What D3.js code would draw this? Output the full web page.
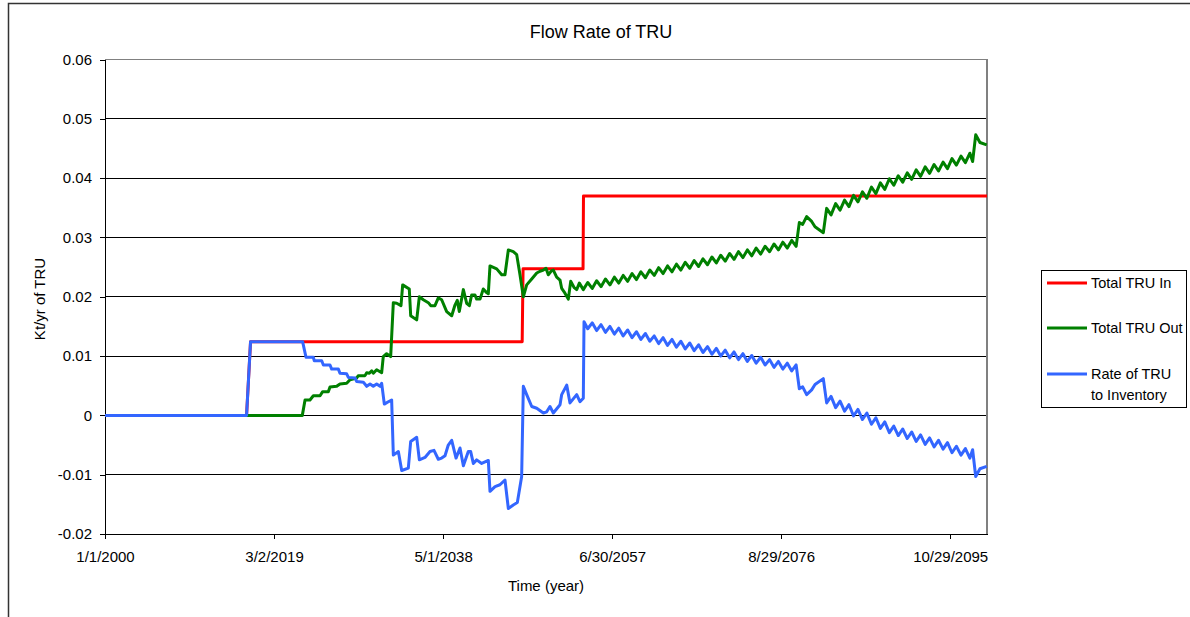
<!DOCTYPE html>
<html>
<head>
<meta charset="utf-8">
<script src="https://cdn.jsdelivr.net/npm/d3@7"></script>
<style>
  body { margin: 0; background: #fff; }
  text { font-family: "Liberation Sans", Arial, sans-serif; fill: #000; }
</style>
</head>
<body>
<svg id="chart" width="1190" height="617"></svg>
<script>
"use strict";

const plotLeft = 105;
const plotRight = 987;
const plotTop = 59.5;
const plotBottom = 534;

// [decimal year, Kt/yr]
const totalIn = [
    [2000, 0], [2016.05, 0], [2016.5, 0.0124], [2047.3, 0.0124], [2047.4, 0.0247],
    [2054.2, 0.0247], [2054.25, 0.0370], [2100, 0.0370]
];

const totalOut = [
    [2000, 0], [2022.37, 0], [2022.68, .0026], [2023.24, .0026], [2023.62, .0033], [2024.38, .0033],
    [2024.68, .0040], [2025.32, .0040], [2025.51, .0048], [2026.27, .0049], [2026.64, .0053],
    [2027.40, .0054], [2027.78, .0060], [2028.54, .0063], [2028.72, .0067], [2029.48, .0067],
    [2029.67, .0072], [2029.97, .0071], [2030.24, .0075], [2030.42, .0071], [2030.80, .0077],
    [2031.37, .0072], [2031.55, .0099], [2031.93, .0104], [2032.39, .0099], [2032.69, .0190],
    [2033.07, .0189], [2033.56, .0185], [2033.75, .0220], [2034.50, .0213], [2034.66, .0168],
    [2035.34, .0161], [2035.64, .0200], [2036.09, .0195], [2036.66, .0190], [2036.93, .0185],
    [2037.41, .0185], [2037.79, .0198], [2038.17, .0195], [2038.74, .0175], [2039.31, .0168],
    [2039.68, .0186], [2039.94, .0194], [2040.17, .0175], [2040.63, .0212], [2041.01, .0189],
    [2041.31, .0185], [2041.57, .0203], [2041.95, .0203], [2042.14, .0196], [2042.52, .0196],
    [2042.89, .0213], [2043.27, .0207], [2043.46, .0205], [2043.65, .0252], [2044.41, .0247],
    [2044.98, .0237], [2045.35, .0237], [2045.73, .0279], [2046.29, .0276], [2046.68, .0271],
    [2047.05, .0237], [2047.43, .0200], [2047.81, .0220], [2048.38, .0230], [2048.95, .0240],
    [2049.32, .0243], [2049.70, .0245], [2050.00, .0248], [2050.26, .0237], [2050.64, .0244],
    [2050.83, .0245], [2051.21, .0233], [2051.59, .0228], [2051.78, .0214], [2052.15, .0206],
    [2052.53, .0196], [2052.80, .0226], [2053.17, .0216], [2053.48, .0212], [2053.78, .0223],
    [2054.23, .0212], [2054.73, .0224], [2055.24, .0214], [2055.74, .0227], [2056.24, .0217],
    [2056.74, .0230], [2057.25, .0220], [2057.75, .0233], [2058.25, .0223], [2058.75, .0236],
    [2059.26, .0226], [2059.76, .0239], [2060.26, .0229], [2060.76, .0242], [2061.27, .0232],
    [2061.77, .0245], [2062.27, .0236], [2062.77, .0249], [2063.28, .0239], [2063.78, .0252],
    [2064.29, .0242], [2064.79, .0255], [2065.29, .0245], [2065.79, .0258], [2066.30, .0248],
    [2066.80, .0261], [2067.30, .0251], [2067.80, .0264], [2068.31, .0254], [2068.81, .0267],
    [2069.31, .0257], [2069.81, .0270], [2070.32, .0260], [2070.82, .0273], [2071.32, .0263],
    [2071.82, .0276], [2072.33, .0266], [2072.83, .0279], [2073.33, .0269], [2073.83, .0282],
    [2074.34, .0272], [2074.84, .0285], [2075.35, .0276], [2075.85, .0289], [2076.35, .0279],
    [2076.85, .0292], [2077.36, .0282], [2077.86, .0295], [2078.36, .0285], [2078.72, .0325],
    [2079.10, .0322], [2079.55, .0335], [2080.12, .0327], [2080.50, .0318], [2081.44, .0308],
    [2081.82, .0349], [2082.32, .0338], [2082.84, .0357], [2083.34, .0346], [2083.85, .0363],
    [2084.35, .0352], [2084.87, .0371], [2085.37, .0360], [2085.88, .0377], [2086.38, .0366],
    [2086.90, .0385], [2087.40, .0374], [2087.91, .0392], [2088.41, .0381], [2088.93, .0399],
    [2089.43, .0388], [2089.94, .0404], [2090.44, .0393], [2090.96, .0409], [2091.46, .0398],
    [2091.97, .0414], [2092.47, .0403], [2092.99, .0419], [2093.49, .0408], [2094.00, .0423],
    [2094.50, .0412], [2095.02, .0427], [2095.52, .0416], [2096.03, .0433], [2096.53, .0422],
    [2097.05, .0437], [2097.55, .0426], [2098.06, .0442], [2098.37, .0428], [2098.72, .0473],
    [2099.20, .0460], [2099.97, .0456]
];

const toInventory = [
    [2000, 0], [2016.05, 0], [2016.5, .0124], [2022.41, .0124], [2022.79, .0098], [2023.62, .0098],
    [2023.73, .0092], [2024.57, .0092], [2024.76, .0085], [2025.51, .0085], [2025.70, .0078],
    [2026.46, .0078], [2026.64, .0071], [2027.40, .0070], [2027.59, .0064], [2028.35, .0063],
    [2028.54, .0057], [2029.29, .0056], [2029.67, .0049], [2030.05, .0053], [2030.42, .0049],
    [2030.80, .0053], [2031.18, .0049], [2031.37, .0054], [2031.67, .0019], [2032.12, .0023],
    [2032.50, .0026], [2032.69, -.0067], [2033.26, -.0061], [2033.64, -.0093], [2034.39, -.0089],
    [2034.66, -.0044], [2035.34, -.0037], [2035.64, -.0075], [2036.28, -.0071], [2036.85, -.0061],
    [2037.30, -.0059], [2037.79, -.0074], [2038.17, -.0072], [2038.55, -.0068], [2038.92, -.0050],
    [2039.31, -.0042], [2039.80, -.0072], [2040.25, -.0055], [2040.63, -.0085], [2041.19, -.0061],
    [2041.46, -.0061], [2041.76, -.0081], [2042.14, -.0075], [2042.71, -.0081], [2043.46, -.0076],
    [2043.65, -.0128], [2044.22, -.0120], [2044.78, -.0117], [2045.35, -.0109], [2045.73, -.0157],
    [2046.29, -.0151], [2046.75, -.0147], [2047.24, -.0103], [2047.43, .0049], [2047.81, .0035],
    [2048.38, .0015], [2048.95, .0012], [2049.70, .0004], [2050.08, .0006], [2050.45, .0015],
    [2050.83, .0004], [2051.59, .0018], [2051.78, .0035], [2052.35, .0051], [2052.72, .0021],
    [2053.48, .0035], [2053.85, .0023], [2054.23, .0029], [2054.31, .0158], [2054.73, .0146],
    [2055.24, .0156], [2055.74, .0143], [2056.24, .0153], [2056.74, .0140], [2057.25, .0150],
    [2057.75, .0137], [2058.25, .0147], [2058.75, .0134], [2059.26, .0144], [2059.76, .0131],
    [2060.26, .0141], [2060.76, .0128], [2061.27, .0138], [2061.77, .0125], [2062.27, .0134],
    [2062.77, .0121], [2063.28, .0131], [2063.78, .0118], [2064.29, .0128], [2064.79, .0115],
    [2065.29, .0125], [2065.79, .0112], [2066.30, .0122], [2066.80, .0109], [2067.30, .0119],
    [2067.80, .0106], [2068.31, .0116], [2068.81, .0103], [2069.31, .0113], [2069.81, .0100],
    [2070.32, .0110], [2070.82, .0097], [2071.32, .0107], [2071.82, .0094], [2072.33, .0104],
    [2072.83, .0091], [2073.33, .0101], [2073.83, .0088], [2074.34, .0098], [2074.84, .0085],
    [2075.35, .0094], [2075.85, .0081], [2076.35, .0091], [2076.85, .0078], [2077.36, .0088],
    [2077.86, .0075], [2078.36, .0085], [2078.72, .0045], [2079.10, .0048], [2079.55, .0035],
    [2080.12, .0043], [2080.50, .0052], [2081.44, .0062], [2081.82, .0021], [2082.32, .0032],
    [2082.84, .0013], [2083.34, .0024], [2083.85, .0007], [2084.35, .0018], [2084.87, -.0001],
    [2085.37, .0010], [2085.88, -.0007], [2086.38, .0004], [2086.90, -.0015], [2087.40, -.0004],
    [2087.91, -.0022], [2088.41, -.0011], [2088.93, -.0029], [2089.43, -.0018], [2089.94, -.0034],
    [2090.44, -.0023], [2090.96, -.0039], [2091.46, -.0028], [2091.97, -.0044], [2092.47, -.0033],
    [2092.99, -.0049], [2093.49, -.0038], [2094.00, -.0053], [2094.50, -.0042], [2095.02, -.0057],
    [2095.52, -.0046], [2096.03, -.0063], [2096.53, -.0052], [2097.05, -.0067], [2097.55, -.0056],
    [2098.06, -.0072], [2098.37, -.0058], [2098.72, -.0103], [2099.20, -.0090], [2099.97, -.0086]
];

const yTicks = [-0.02, -0.01, 0, 0.01, 0.02, 0.03, 0.04, 0.05, 0.06];
const yTickLabels = ["-0.02", "-0.01", "0", "0.01", "0.02", "0.03", "0.04", "0.05", "0.06"];
const xTickDates = ["2000-01-01", "2019-03-02", "2038-05-01", "2057-06-30", "2076-08-29", "2095-10-29"];
const seriesNames = ["Total TRU In", "Total TRU Out", "Rate of TRU|to Inventory"];

const colors = ["#ff0000", "#008000", "#3366ff"];

const t0 = Date.UTC(2000, 0, 1);
function yearToDate(yr) {
    return new Date(t0 + (yr - 2000) * 365.25 * 86400000);
}

const svg = d3.select("#chart");

// outer chart frame
svg.append("rect")
    .attr("x", 8.5).attr("y", 3.5)
    .attr("width", 1300).attr("height", 800)
    .attr("fill", "none")
    .attr("stroke", "#333")
    .attr("stroke-width", 1.5);

const xScale = d3.scaleUtc()
    .domain([new Date(t0), new Date(Date.UTC(2100, 0, 1))])
    .range([plotLeft, plotRight]);
const yScale = d3.scaleLinear()
    .domain([-0.02, 0.06])
    .range([plotBottom, plotTop]);

// gridlines
svg.append("g")
    .selectAll("line")
    .data(yTicks.filter(v => v > -0.02 && v < 0.06))
    .join("line")
    .attr("x1", plotLeft).attr("x2", plotRight)
    .attr("y1", d => yScale(d)).attr("y2", d => yScale(d))
    .attr("stroke", "#000")
    .attr("shape-rendering", "crispEdges");

// plot area border (top + right in gray)
svg.append("path")
    .attr("d", `M${plotLeft},${yScale(0.06)}H${plotRight}V${plotBottom}`)
    .attr("fill", "none")
    .attr("stroke", "#808080")
    .attr("stroke-width", 1.5)
    .attr("shape-rendering", "crispEdges");

// y axis
const yAxis = d3.axisLeft(yScale)
    .tickValues(yTicks)
    .tickSize(5)
    .tickPadding(8)
    .tickFormat((d, i) => yTickLabels[i]);
const gy = svg.append("g")
    .attr("transform", `translate(${plotLeft},0)`)
    .call(yAxis);
gy.selectAll("text").attr("font-size", 15).attr("font-family", null);
gy.selectAll("line,path").attr("stroke", "#000").attr("shape-rendering", "crispEdges");

// x axis
const parseDate = d3.utcParse("%Y-%m-%d");
const fmtDate = d3.utcFormat("%-m/%-d/%Y");
const xAxis = d3.axisBottom(xScale)
    .tickValues(xTickDates.map(parseDate))
    .tickSize(5)
    .tickSizeOuter(0)
    .tickPadding(12)
    .tickFormat(fmtDate);
const gx = svg.append("g")
    .attr("transform", `translate(0,${plotBottom})`)
    .call(xAxis);
gx.selectAll("text").attr("font-size", 15).attr("font-family", null);
gx.selectAll("line,path").attr("stroke", "#000").attr("shape-rendering", "crispEdges");

// series
const line = d3.line()
    .x(d => xScale(yearToDate(d[0])))
    .y(d => yScale(d[1]));

[totalIn, totalOut, toInventory].forEach(function(series, i) {
    svg.append("path")
        .datum(series)
        .attr("d", line)
        .attr("fill", "none")
        .attr("stroke", colors[i])
        .attr("stroke-width", 3)
        .attr("stroke-linejoin", "round");
});

// titles
svg.append("text")
    .attr("x", 601).attr("y", 38)
    .attr("text-anchor", "middle")
    .attr("font-size", 18)
    .text("Flow Rate of TRU");

svg.append("text")
    .attr("x", 546).attr("y", 591)
    .attr("text-anchor", "middle")
    .attr("font-size", 15)
    .text("Time (year)");

svg.append("text")
    .attr("transform", "translate(45,299) rotate(-90)")
    .attr("text-anchor", "middle")
    .attr("font-size", 15)
    .text("Kt/yr of TRU");

// legend
const legend = svg.append("g");
legend.append("rect")
    .attr("x", 1041.5).attr("y", 270.5)
    .attr("width", 145).attr("height", 137)
    .attr("fill", "#fff")
    .attr("stroke", "#000");

const legendY = [283, 328, 374];
seriesNames.forEach(function(name, i) {
    legend.append("line")
        .attr("x1", 1047).attr("x2", 1087)
        .attr("y1", legendY[i]).attr("y2", legendY[i])
        .attr("stroke", colors[i])
        .attr("stroke-width", 3);
    name.split("|").forEach(function(part, j) {
        legend.append("text")
            .attr("x", 1091)
            .attr("y", legendY[i] + 5 + j * 21)
            .attr("font-size", 14.5)
            .text(part);
    });
});
</script>
</body>
</html>
